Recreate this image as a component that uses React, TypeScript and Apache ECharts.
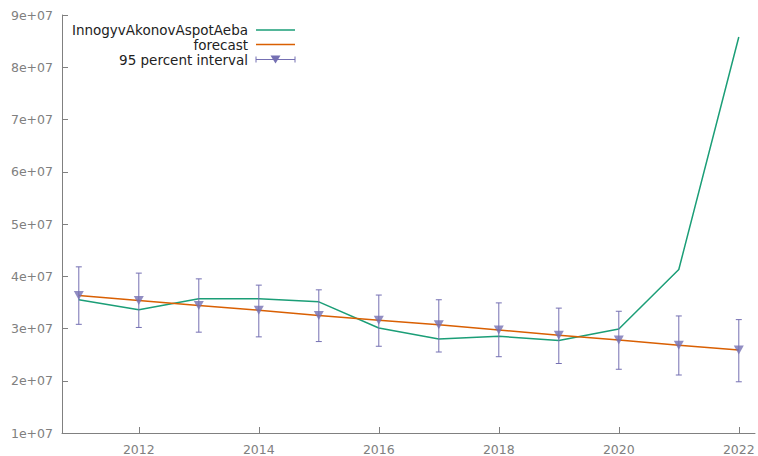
import React, { useEffect, useRef } from "react";
import * as echarts from "echarts";

const years = [2011, 2012, 2013, 2014, 2015, 2016, 2017, 2018, 2019, 2020, 2021, 2022];
const actual = [3.55e7, 3.36e7, 3.57e7, 3.57e7, 3.51e7, 3.01e7, 2.80e7, 2.85e7, 2.77e7, 2.99e7, 4.13e7, 8.58e7];
const forecast = [3.63e7, 3.535e7, 3.44e7, 3.35e7, 3.25e7, 3.16e7, 3.07e7, 2.97e7, 2.87e7, 2.78e7, 2.68e7, 2.59e7];
const lower = [3.08e7, 3.02e7, 2.93e7, 2.84e7, 2.75e7, 2.66e7, 2.55e7, 2.46e7, 2.33e7, 2.22e7, 2.11e7, 1.98e7];
const upper = [4.18e7, 4.06e7, 3.95e7, 3.83e7, 3.74e7, 3.64e7, 3.55e7, 3.49e7, 3.39e7, 3.33e7, 3.24e7, 3.17e7];
const xTicks = [2012, 2014, 2016, 2018, 2020, 2022];
const seriesNames = ["InnogyvAkonovAspotAeba", "forecast", "95 percent interval"];

const GREEN = "#1b9e77";
const ORANGE = "#d95f02";
const PURPLE = "#7570b3";
const AXIS = "#808080";
const FONT = '"DejaVu Sans", Verdana, sans-serif';

export default function App() {
  const ref = useRef<HTMLDivElement>(null);
  useEffect(() => {
    document.body.style.margin = "0";
    const chart = echarts.init(ref.current!, null, { renderer: "svg" });
    const legendRows = [30, 44.5, 59.5];
    const legendGraphics: any[] = [];
    seriesNames.forEach((n, i) => {
      legendGraphics.push({
        type: "text",
        x: 248,
        y: legendRows[i],
        style: {
          text: n,
          align: "right",
          verticalAlign: "middle",
          textAlign: "right",
          textVerticalAlign: "middle",
          font: `13.5px ${FONT}`,
          fill: "#222",
        },
      });
    });
    legendGraphics.push(
      { type: "line", shape: { x1: 256, y1: legendRows[0], x2: 295, y2: legendRows[0] }, style: { stroke: GREEN, lineWidth: 1.5 } },
      { type: "line", shape: { x1: 256, y1: legendRows[1], x2: 295, y2: legendRows[1] }, style: { stroke: ORANGE, lineWidth: 1.5 } },
      { type: "line", shape: { x1: 256, y1: legendRows[2], x2: 295, y2: legendRows[2] }, style: { stroke: PURPLE, lineWidth: 1 } },
      { type: "line", shape: { x1: 256, y1: legendRows[2] - 3, x2: 256, y2: legendRows[2] + 3 }, style: { stroke: PURPLE, lineWidth: 1 } },
      { type: "line", shape: { x1: 295, y1: legendRows[2] - 3, x2: 295, y2: legendRows[2] + 3 }, style: { stroke: PURPLE, lineWidth: 1 } },
      {
        type: "polygon",
        shape: { points: [[270.5, legendRows[2] - 4], [280.5, legendRows[2] - 4], [275.5, legendRows[2] + 4]] },
        style: { fill: PURPLE },
      }
    );

    chart.setOption({
      animation: false,
      grid: { left: 62, right: 3, top: 15, bottom: 23, containLabel: false },
      graphic: legendGraphics,
      xAxis: {
        type: "value",
        min: 2010.72,
        max: 2022.27,
        splitLine: { show: false },
        axisLine: { show: true, lineStyle: { color: AXIS, width: 1 } },
        axisTick: { show: true, inside: true, length: 6, lineStyle: { color: AXIS }, customValues: xTicks },
        axisLabel: { color: AXIS, fontFamily: FONT, fontSize: 12.5, margin: 10, customValues: xTicks, formatter: (v: number) => String(v) },
      },
      yAxis: {
        type: "value",
        min: 1e7,
        max: 9e7,
        interval: 1e7,
        splitLine: { show: false },
        axisLine: { show: true, lineStyle: { color: AXIS, width: 1 } },
        axisTick: { show: true, inside: true, length: 6, lineStyle: { color: AXIS } },
        axisLabel: {
          color: AXIS,
          fontFamily: FONT,
          fontSize: 12.5,
          margin: 9,
          formatter: (v: number) => `${Math.round(v / 1e7)}e+07`,
        },
      },
      series: [
        {
          name: seriesNames[0],
          type: "line",
          data: years.map((y, i) => [y, actual[i]]),
          showSymbol: false,
          symbol: "none",
          lineStyle: { color: GREEN, width: 1.5 },
          z: 2,
        },
        {
          name: seriesNames[1],
          type: "line",
          data: years.map((y, i) => [y, forecast[i]]),
          showSymbol: false,
          symbol: "none",
          lineStyle: { color: ORANGE, width: 1.5 },
          z: 3,
        },
        {
          name: seriesNames[2],
          type: "custom",
          data: years.map((y, i) => [y, lower[i], upper[i]]),
          renderItem: (params: any, api: any) => {
            const x = api.value(0);
            const lo = api.coord([x, api.value(1)]);
            const hi = api.coord([x, api.value(2)]);
            const st = { stroke: PURPLE, lineWidth: 1 };
            return {
              type: "group",
              children: [
                { type: "line", shape: { x1: lo[0], y1: lo[1], x2: hi[0], y2: hi[1] }, style: st },
                { type: "line", shape: { x1: hi[0] - 3, y1: hi[1], x2: hi[0] + 3, y2: hi[1] }, style: st },
                { type: "line", shape: { x1: lo[0] - 3, y1: lo[1], x2: lo[0] + 3, y2: lo[1] }, style: st },
              ],
            };
          },
          z: 4,
        },
        {
          name: seriesNames[2] + " marker",
          type: "scatter",
          data: years.map((y, i) => [y, forecast[i]]),
          symbol: "triangle",
          symbolRotate: 180,
          symbolSize: [10, 9],
          itemStyle: { color: PURPLE },
          z: 5,
        },
      ],
    });
    return () => chart.dispose();
  }, []);
  return <div ref={ref} style={{ width: 758, height: 456 }} />;
}
